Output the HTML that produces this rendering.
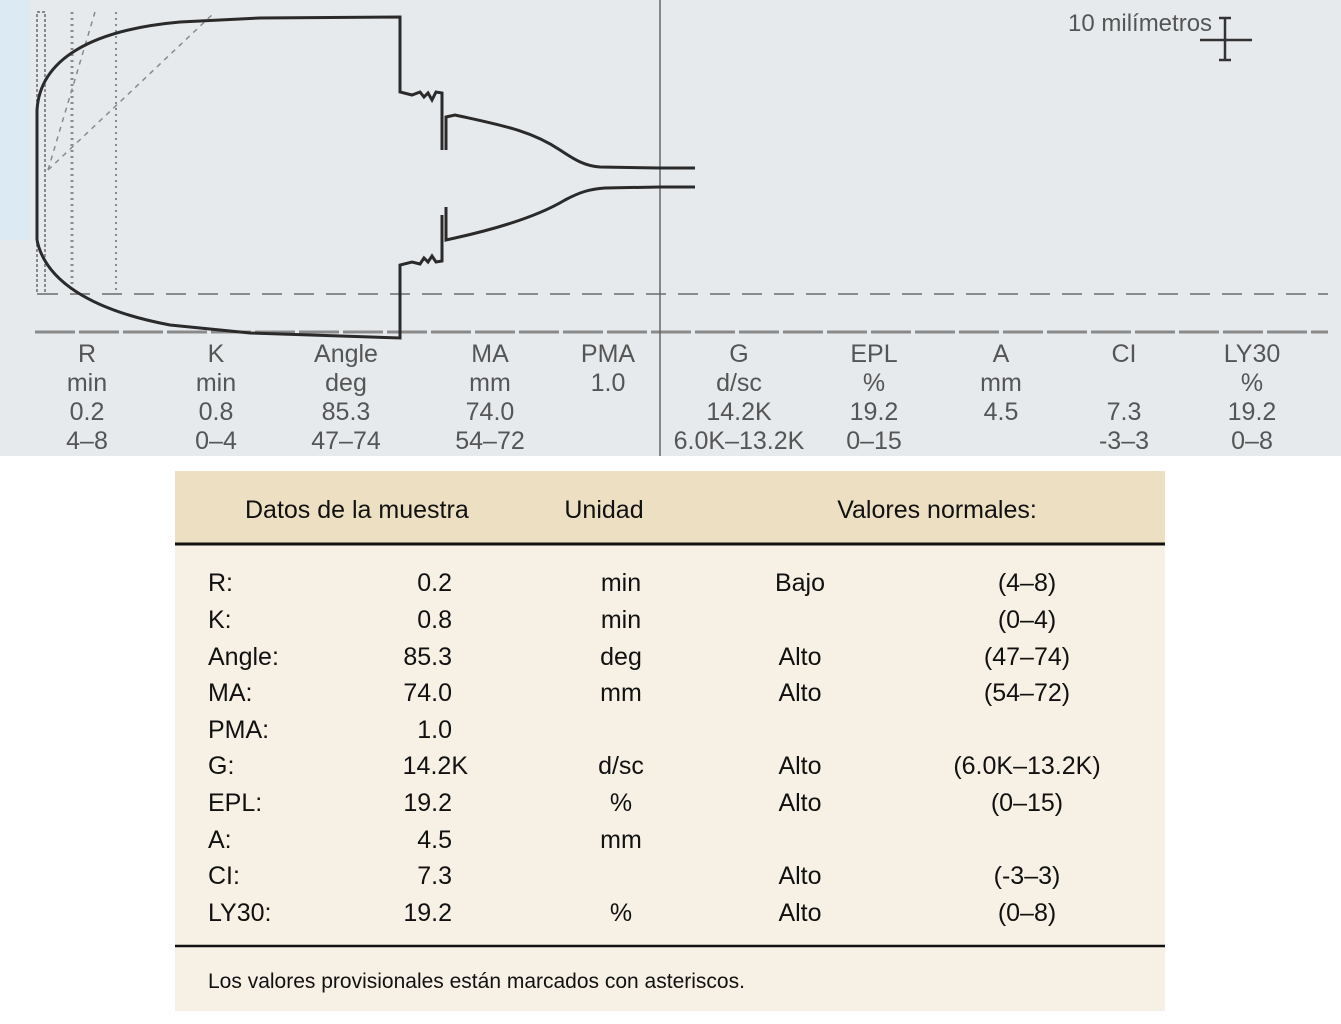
<!DOCTYPE html>
<html><head><meta charset="utf-8"><style>
html,body{margin:0;padding:0;background:#fff}
svg{display:block}
text{font-family:"Liberation Sans",sans-serif}
</style></head><body>
<svg width="1341" height="1024" viewBox="0 0 1341 1024" xmlns="http://www.w3.org/2000/svg">
<rect x="0" y="0" width="1341" height="456" fill="#e7eaed"/>
<rect x="0" y="0" width="30" height="240" fill="#dcebf3"/>
<!-- grid -->
<g stroke="#8a8a8a" fill="none">
<rect x="37" y="12" width="8" height="282" stroke-width="2" stroke-dasharray="3,2"/>
<line x1="72" y1="12" x2="72" y2="294" stroke-width="3" stroke-dasharray="2,4"/>
<line x1="116" y1="12" x2="116" y2="294" stroke-width="2" stroke-dasharray="2,4"/>
<line x1="48" y1="170" x2="95" y2="12" stroke-width="1.5" stroke-dasharray="5,5"/>
<line x1="48" y1="170" x2="215" y2="12" stroke-width="1.5" stroke-dasharray="5,5"/>
<line x1="38" y1="294" x2="1328" y2="294" stroke-width="2" stroke-dasharray="20,12"/>
<line x1="35" y1="332" x2="1328" y2="332" stroke-width="3" stroke-dasharray="40,4"/>
</g>
<line x1="660" y1="0" x2="660" y2="456" stroke="#666" stroke-width="1.5"/>
<!-- trace -->
<g stroke="#2a2a2a" stroke-width="3" fill="none">
<path d="M37,240 L37,110 C40,60 90,30 180,22 L260,18 L400,17 L400,92 L412,95 L420,92 L424,97 L428,93 L432,100 L436,92 L442,93 L442,150 M446,150 L446,117 L455,115 C500,125 530,130 560,150 C575,160 585,166 600,167 L660,168 L695,168"/>
<path d="M37,240 C45,280 90,310 170,325 L250,333 L400,338 L400,265 L412,262 L420,264 L424,258 L428,262 L432,256 L436,262 L442,261 L442,215 M446,207 L446,240 L455,238 C500,228 540,215 565,200 C580,192 590,189 605,188 L660,187 L695,187"/>
</g>
<!-- scale -->
<g stroke="#333" stroke-width="2.5">
<line x1="1225" y1="18" x2="1225" y2="60"/>
<line x1="1200" y1="40" x2="1252" y2="40"/>
<line x1="1219" y1="18" x2="1231" y2="18"/>
<line x1="1219" y1="60" x2="1231" y2="60"/>
</g>
<text x="1068" y="31" font-size="24" fill="#555">10 milímetros</text>
<!-- labels -->
<g font-size="25" fill="#555" text-anchor="middle">
<text x="87" y="362">R</text><text x="87" y="391">min</text><text x="87" y="420">0.2</text><text x="87" y="449">4–8</text>
<text x="216" y="362">K</text><text x="216" y="391">min</text><text x="216" y="420">0.8</text><text x="216" y="449">0–4</text>
<text x="346" y="362">Angle</text><text x="346" y="391">deg</text><text x="346" y="420">85.3</text><text x="346" y="449">47–74</text>
<text x="490" y="362">MA</text><text x="490" y="391">mm</text><text x="490" y="420">74.0</text><text x="490" y="449">54–72</text>
<text x="608" y="362">PMA</text><text x="608" y="391">1.0</text>
<text x="739" y="362">G</text><text x="739" y="391">d/sc</text><text x="739" y="420">14.2K</text><text x="739" y="449">6.0K–13.2K</text>
<text x="874" y="362">EPL</text><text x="874" y="391">%</text><text x="874" y="420">19.2</text><text x="874" y="449">0–15</text>
<text x="1001" y="362">A</text><text x="1001" y="391">mm</text><text x="1001" y="420">4.5</text>
<text x="1124" y="362">CI</text><text x="1124" y="420">7.3</text><text x="1124" y="449">-3–3</text>
<text x="1252" y="362">LY30</text><text x="1252" y="391">%</text><text x="1252" y="420">19.2</text><text x="1252" y="449">0–8</text>
</g>
<!-- table -->
<rect x="175" y="471" width="990" height="540" fill="#f6f1e4"/>
<rect x="175" y="471" width="990" height="73" fill="#eddfc2"/>
<line x1="175" y1="544" x2="1165" y2="544" stroke="#111" stroke-width="3"/>
<line x1="175" y1="946" x2="1165" y2="946" stroke="#111" stroke-width="2.5"/>
<g font-size="25" fill="#111">
<text x="245" y="518">Datos de la muestra</text>
<text x="604" y="518" text-anchor="middle">Unidad</text>
<text x="937" y="518" text-anchor="middle">Valores normales:</text>
<g>
<text x="208" y="591">R:</text><text x="208" y="628">K:</text><text x="208" y="665">Angle:</text><text x="208" y="701">MA:</text><text x="208" y="738">PMA:</text><text x="208" y="774">G:</text><text x="208" y="811">EPL:</text><text x="208" y="848">A:</text><text x="208" y="884">CI:</text><text x="208" y="921">LY30:</text>
</g>
<g text-anchor="end">
<text x="452" y="591">0.2</text><text x="452" y="628">0.8</text><text x="452" y="665">85.3</text><text x="452" y="701">74.0</text><text x="452" y="738">1.0</text><text x="468" y="774">14.2K</text><text x="452" y="811">19.2</text><text x="452" y="848">4.5</text><text x="452" y="884">7.3</text><text x="452" y="921">19.2</text>
</g>
<g text-anchor="middle">
<text x="621" y="591">min</text><text x="621" y="628">min</text><text x="621" y="665">deg</text><text x="621" y="701">mm</text><text x="621" y="774">d/sc</text><text x="621" y="811">%</text><text x="621" y="848">mm</text><text x="621" y="921">%</text>
<text x="800" y="591">Bajo</text><text x="800" y="665">Alto</text><text x="800" y="701">Alto</text><text x="800" y="774">Alto</text><text x="800" y="811">Alto</text><text x="800" y="884">Alto</text><text x="800" y="921">Alto</text>
<text x="1027" y="591">(4–8)</text><text x="1027" y="628">(0–4)</text><text x="1027" y="665">(47–74)</text><text x="1027" y="701">(54–72)</text><text x="1027" y="774">(6.0K–13.2K)</text><text x="1027" y="811">(0–15)</text><text x="1027" y="884">(-3–3)</text><text x="1027" y="921">(0–8)</text>
</g>
</g>
<text x="208" y="988" font-size="21" fill="#111">Los valores provisionales están marcados con asteriscos.</text>
</svg>
</body></html>
